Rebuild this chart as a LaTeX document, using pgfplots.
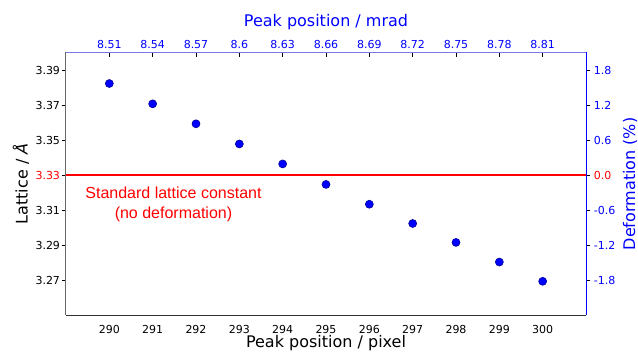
\documentclass[border=0pt]{standalone}
\usepackage{pgfplots}
\pgfplotsset{compat=1.18}
\usepackage{fontspec}
\setmainfont{DejaVu Sans}
\newfontfamily\arialf{Liberation Sans}
\definecolor{topspine}{RGB}{120,120,235}
\definecolor{leftspine}{RGB}{105,105,105}
\begin{document}
\begin{tikzpicture}
\pgfplotsset{
  common/.style={
    at={(0,0)}, anchor=south west,
    scale only axis, width=520bp, height=262.8bp,
    major tick length=4.3bp,
    tick style={black, line width=0.7bp},
    ticklabel style={font=\fontsize{11bp}{13bp}\selectfont},
  }
}
% main axis
\begin{axis}[common,
  xmin=289, xmax=301, ymin=3.25, ymax=3.40,
  axis x line*=bottom, axis y line*=left,
  x axis line style={-, draw=black!80, line width=1bp},
  y axis line style={-, draw=leftspine, line width=1bp},
  xtick={290,291,292,293,294,295,296,297,298,299,300},
  xticklabels={290,291,292,293,294,295,296,297,298,299,300},
  x tick style={draw=none},
  xticklabel style={yshift=-2bp},
  ytick={3.27,3.29,3.31,3.33,3.35,3.37,3.39},
  yticklabels={3.27,3.29,3.31,\textcolor{red}{3.33},3.35,3.37,3.39},
  yticklabel style={inner xsep=1.5bp},
  tick align=outside,
  every axis x label/.style={at={(rel axis cs:0.5,0)}, anchor=center, yshift=-27.7bp, font=\fontsize{16bp}{19bp}\selectfont},
  every axis y label/.style={at={(rel axis cs:0,0.5)}, xshift=-45bp, rotate=90, anchor=center, font=\fontsize{16bp}{19bp}\selectfont},
  xlabel={Peak position / pixel},
  ylabel={Lattice / \textit{Å}},
]
\addplot[red, line width=1.5bp] coordinates {(289,3.33) (301,3.33)};
\addplot[only marks, mark=*, mark size=4bp,
  mark options={fill=blue, draw=blue!60!black, line width=0.6bp}] coordinates {
  (290,3.3823) (291,3.3707) (292,3.3593) (293,3.3478) (294,3.3364)
  (295,3.3247) (296,3.3134) (297,3.3024) (298,3.2916) (299,3.2804) (300,3.2694)
};
\node[red, align=center, font=\arialf\fontsize{16bp}{20bp}\selectfont] at (axis cs:291.48,3.3133)
  {Standard lattice constant\\(no deformation)};
\end{axis}
% top axis
\begin{axis}[common,
  xmin=8.48, xmax=8.84, ymin=0, ymax=1,
  axis x line*=top, axis y line=none,
  x axis line style={-, draw=topspine, line width=1bp},
  xtick={8.51,8.54,8.57,8.60,8.63,8.66,8.69,8.72,8.75,8.78,8.81},
  xticklabels={8.51,8.54,8.57,8.6,8.63,8.66,8.69,8.72,8.75,8.78,8.81},
  xticklabel style={blue},
  tick align=inside,
  every axis x label/.style={at={(rel axis cs:0.5,1)}, anchor=center, yshift=30.8bp, font=\fontsize{16bp}{19bp}\selectfont},
  xlabel={\textcolor{blue}{Peak position / mrad}},
]
\end{axis}
% right axis
\begin{axis}[common,
  xmin=0, xmax=1, ymin=-2.4024, ymax=2.1021,
  axis y line*=right, axis x line=none,
  y axis line style={-, draw=blue, line width=1bp},
  ytick={-1.8,-1.2,-0.6,0,0.6,1.2,1.8},
  yticklabels={-1.8,-1.2,-0.6,\textcolor{red}{0.0},0.6,1.2,1.8},
  yticklabel style={blue},
  tick align=outside,
  every axis y label/.style={at={(rel axis cs:1,0.5)}, xshift=44bp, rotate=90, anchor=center, font=\fontsize{16bp}{19bp}\selectfont},
  ylabel={\textcolor{blue}{Deformation (\%)}},
]
\end{axis}
\pgfresetboundingbox
\path[use as bounding box] (-66bp,-36.7bp) rectangle (572bp,315.3bp);
\end{tikzpicture}
\end{document}
